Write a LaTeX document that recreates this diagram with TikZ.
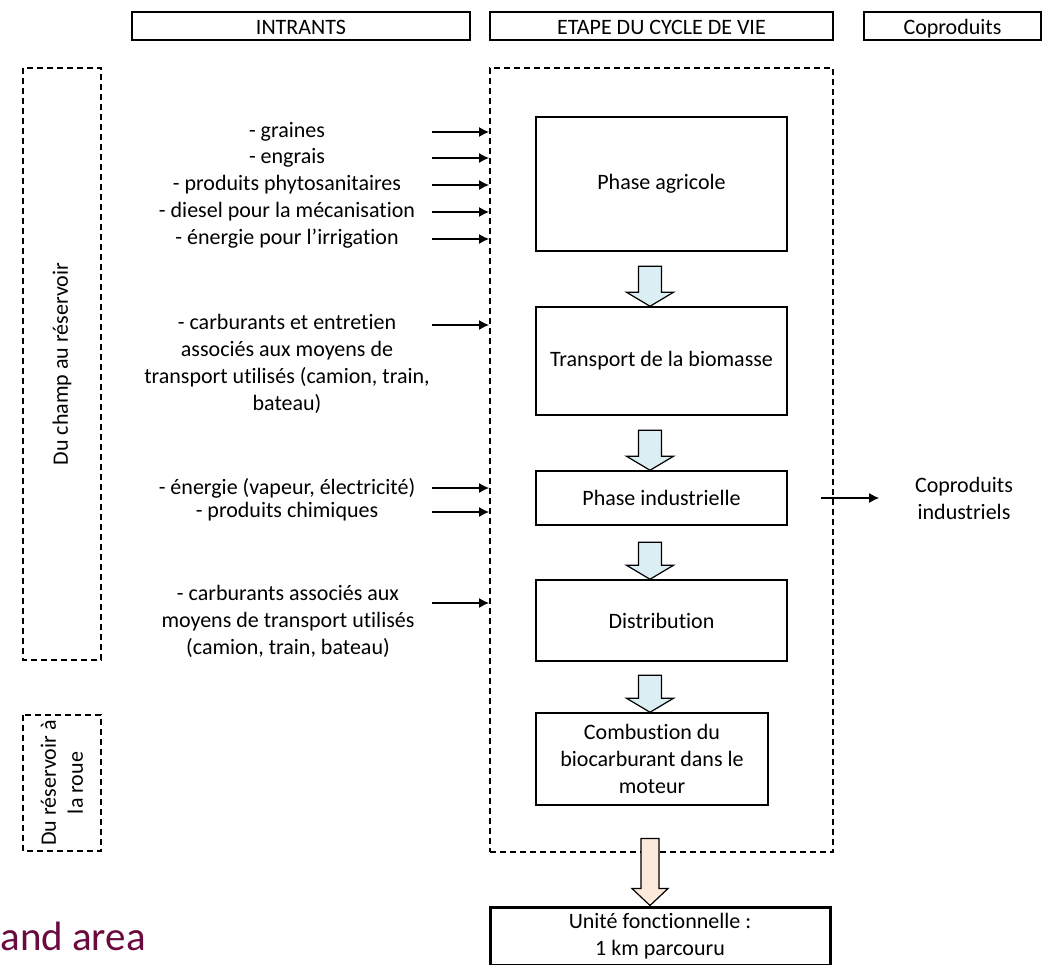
\documentclass[tikz,border=0pt]{standalone}
\usepackage{fontspec}
\setmainfont[Ligatures=NoCommon]{Carlito}
\usetikzlibrary{positioning,calc,arrows.meta}
\definecolor{arrowblue}{HTML}{DAEEF3}
\definecolor{arrowpeach}{HTML}{FDE9D9}
\definecolor{maroon}{HTML}{6B0A3E}
\tikzset{
  hdr/.style={draw, line width=0.75pt, minimum height=14pt, inner sep=0pt, text height=8pt, text depth=0pt},
  zone/.style={draw, line width=1pt, dash pattern=on 3pt off 2pt, inner sep=0pt, align=center},
  stage/.style={draw, line width=0.75pt, align=center, inner sep=0pt},
  intxt/.style={align=center, inner sep=0pt},
  inarrow/.style={line width=0.6pt, -{Latex[length=5pt,width=5pt]}},
}
% block arrow between two stages: tip, length
\newcommand{\stagearrow}[2]{%
  \draw[line width=0.6pt, fill=arrowblue] (#1) -- ++(-11.75pt,7pt) -- ++(6pt,0pt)
    -- ++(0pt,#2-7pt) -- ++(11.5pt,0pt) -- ++(0pt,7pt-#2) -- ++(6pt,0pt) -- cycle;}
\begin{document}
\begin{tikzpicture}[x=0.5pt, y=-0.5pt, font=\fontsize{11}{13.5}\selectfont]
\useasboundingbox (0,0) rectangle (1043,964);
% headers
\node[hdr, minimum width=169pt] (hin) at (301,26) {INTRANTS};
\node[hdr, minimum width=171.5pt] (hetape) at (661.5,26) {ETAPE DU CYCLE DE VIE};
\node[hdr, minimum width=88.5pt] (hcop) at (952.5,26) {Coproduits};
% zones on the left
\node[zone, rotate=90, minimum width=296pt, minimum height=39pt] (zchamp) at (62,364) {Du champ au réservoir};
\node[zone, rotate=90, minimum width=68pt, minimum height=39pt] (zroue) at (62,783) {Du réservoir à\\la roue};
% life cycle
\node[zone, minimum width=171.5pt, minimum height=392pt] (cycle) at (661.5,460) {};
\node[stage, minimum width=125.5pt, minimum height=67pt] (agri) at (661.5,184) {Phase agricole};
\node[stage, minimum width=125.5pt, minimum height=54pt] (transp) at (661.5,361) {Transport de la biomasse};
\node[stage, minimum width=125.5pt, minimum height=27pt] (indus) at (661.5,498) {Phase industrielle};
\node[stage, minimum width=125.5pt, minimum height=40.5pt] (distrib) at (661.5,620.5) {Distribution};
\node[stage, minimum width=116pt, minimum height=46pt] (combust) at (652,759) {Combustion du\\biocarburant dans le\\moteur};
\node[stage, line width=1.5pt, minimum width=170pt, minimum height=29pt] (unit) at (660,936) {Unité fonctionnelle :\\1 km parcouru};
\coordinate (ax) at (650,0);
\stagearrow{ax |- transp.north}{20pt}
\stagearrow{ax |- indus.north}{20pt}
\stagearrow{ax |- distrib.north}{18.5pt}
\stagearrow{ax |- combust.north}{18.5pt}
\draw[line width=0.6pt, fill=arrowpeach] (ax |- unit.north) -- ++(-9pt,8.5pt) -- ++(4.5pt,0pt)
  -- ++(0pt,25pt) -- ++(9pt,0pt) -- ++(0pt,-25pt) -- ++(4.5pt,0pt) -- cycle;
% inputs
\node[intxt] (graines) at (287,132) {- graines};
\node[intxt] (engrais) at (287,158) {- engrais};
\node[intxt] (phyto) at (287,185) {- produits phytosanitaires};
\node[intxt] (diesel) at (287,212) {- diesel pour la mécanisation};
\node[intxt] (irrig) at (287,239) {- énergie pour l'irrigation};
\coordinate (instart) at (432,0);
\foreach \n in {graines,engrais,phyto,diesel,irrig}
  \draw[inarrow] (instart |- \n) -- (cycle.west |- \n);
\node[intxt] (carbtr) at (287,363.5) {- carburants et entretien\\associés aux moyens de\\transport utilisés (camion, train,\\bateau)};
\coordinate (acarbtr) at (432,325);
\draw[inarrow] (acarbtr) -- (cycle.west |- acarbtr);
\node[intxt] (energie) at (287,488) {- énergie (vapeur, électricité)};
\node[intxt] (chimie) at (287,512) {- produits chimiques};
\foreach \n in {energie,chimie}
  \draw[inarrow] (instart |- \n) -- (cycle.west |- \n);
\node[intxt] (carbdist) at (288,621) {- carburants associés aux\\moyens de transport utilisés\\(camion, train, bateau)};
\coordinate (acarbdist) at (432,603);
\draw[inarrow] (acarbdist) -- (cycle.west |- acarbdist);
% outputs
\node[intxt] (coprod) at (964,498) {Coproduits\\industriels};
\draw[inarrow] ([xshift=16.5pt]indus.east) -- ([xshift=-17.75pt]coprod.west);
\node[anchor=base west, inner sep=0pt, text=maroon, font=\fontsize{20.5}{24}\selectfont] (landarea) at (0,950) {and area};
\end{tikzpicture}
\end{document}
